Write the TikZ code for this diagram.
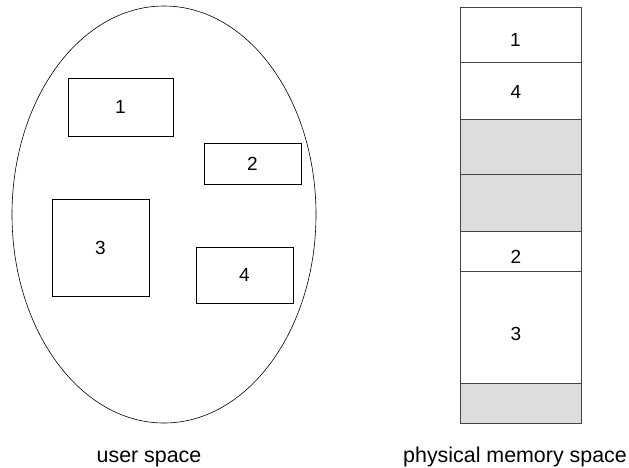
\documentclass[tikz,border=0pt]{standalone}
\usepackage{fontspec}
\setmainfont{Liberation Sans}
\usetikzlibrary{positioning}
\definecolor{freegray}{HTML}{DDDDDD}
\definecolor{cellline}{HTML}{444444}
\tikzset{
	segbox/.style={draw=black, line width=0.6pt, inner sep=0pt, font=\fontsize{19}{21}\selectfont},
	memcell/.style={draw=cellline, line width=0.9pt, inner sep=0pt, minimum width=121pt, anchor=north},
	celltext/.style={inner sep=0pt, font=\fontsize{19}{21}\selectfont},
	caption/.style={anchor=base, font=\fontsize{21.4}{24}\selectfont}
}
\begin{document}
\begin{tikzpicture}[x=1pt, y=-1pt]
		%%%%% START %%%%%
		\useasboundingbox (0, 0) rectangle (629, 467);
		
		% user space
		\draw[line width=0.6pt] (164, 214.5) ellipse (152 and 208.5);
		
		\node[segbox, minimum width=105pt, minimum height=58pt] (seg1) at (120.5, 107) {1};
		\node[segbox, minimum width=97pt, minimum height=41pt] (seg2) at (252.5, 163.5) {2};
		\node[segbox, minimum width=97pt, minimum height=97pt] (seg3) at (100.5, 247.5) {3};
		\node[segbox, minimum width=97pt, minimum height=56pt] (seg4) at (244.5, 275) {4};
		
		\node[caption] (userlbl) at (149, 462) {user space};
		
		% physical memory
		\node[memcell, minimum height=55.6pt] (mem1) at (520.5, 6.7) {};
		\node[memcell, minimum height=56.4pt] (mem4) at (520.5, 62.3) {};
		\node[memcell, minimum height=55.6pt, fill=freegray] (free1) at (520.5, 118.7) {};
		\node[memcell, minimum height=56.4pt, fill=freegray] (free2) at (520.5, 174.3) {};
		\node[memcell, minimum height=40pt] (mem2) at (520.5, 230.7) {};
		\node[memcell, minimum height=112pt] (mem3) at (520.5, 270.7) {};
		\node[memcell, minimum height=40.6pt, fill=freegray] (free3) at (520.5, 382.7) {};
		
		\node[celltext] (txt1) at ([xshift=-5pt, yshift=-5.5pt]mem1.center) {1};
		\node[celltext] (txt4) at ([xshift=-4.5pt, yshift=-1.5pt]mem4.center) {4};
		\node[celltext] (txt2) at ([xshift=-4.5pt, yshift=-6pt]mem2.center) {2};
		\node[celltext] (txt3) at ([xshift=-4.5pt, yshift=-7pt]mem3.center) {3};
		
		\node[caption] (memlbl) at (515, 462) {physical memory space};
		%%%%% END %%%%%
	\end{tikzpicture}
\end{document}
